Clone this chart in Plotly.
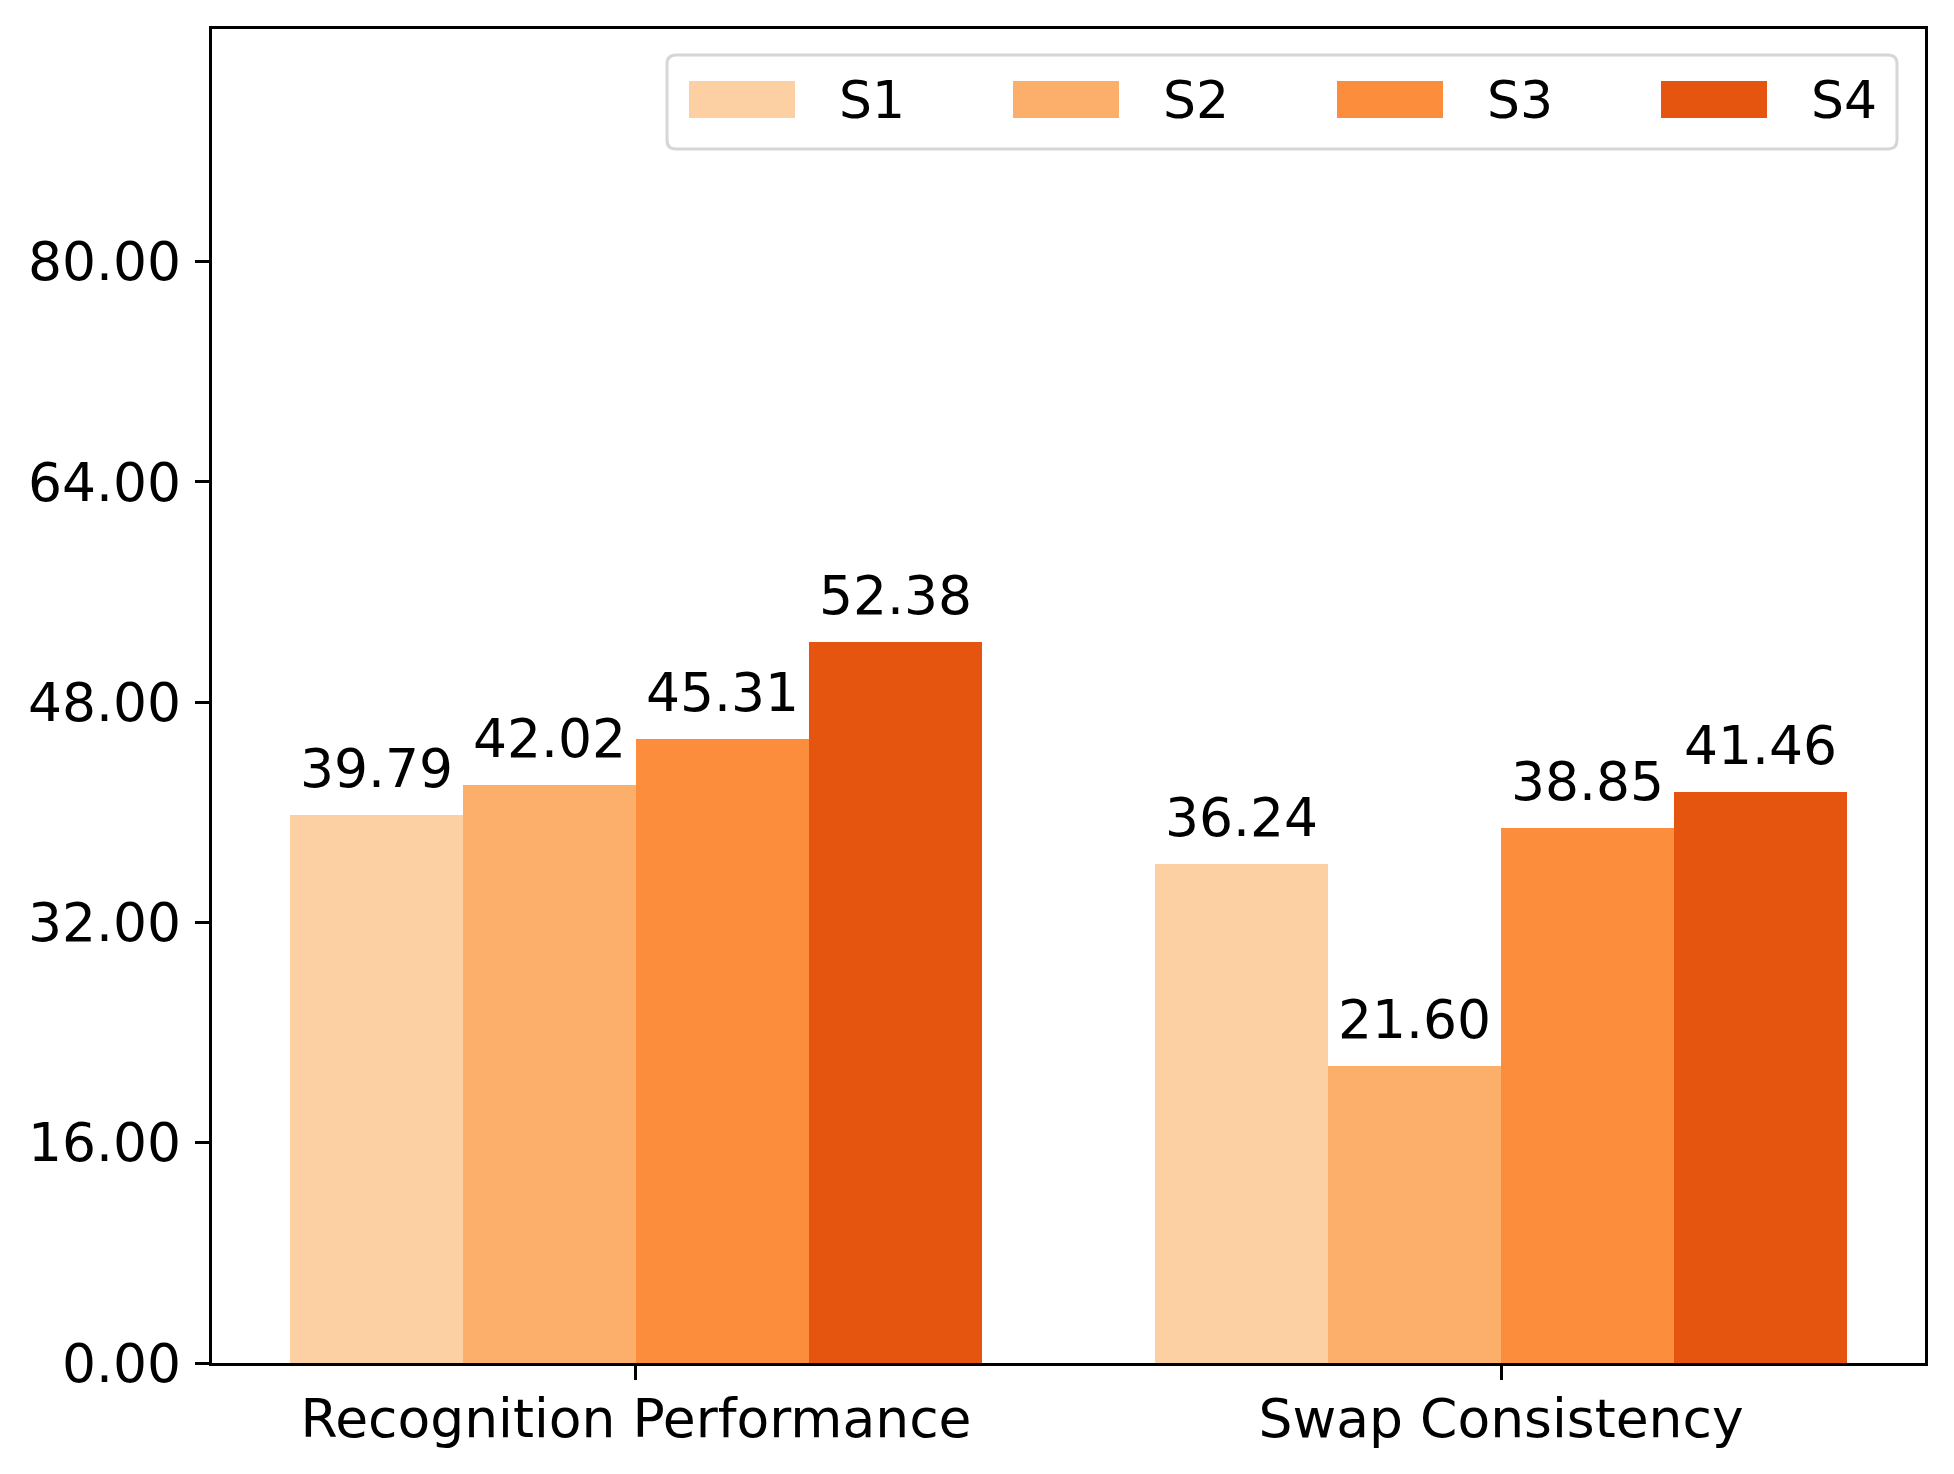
import re
import plotly.graph_objects as go

categories = ["Recognition Performance", "Swap Consistency"]
series_names = ["S1", "S2", "S3", "S4"]
s1_values = [39.79, 36.24]
s2_values = [42.02, 21.60]
s3_values = [45.31, 38.85]
s4_values = [52.38, 41.46]
series_values = [s1_values, s2_values, s3_values, s4_values]
colors = ["#fcd0a2", "#fcae6b", "#fc8d3c", "#e5550f"]
y_tick_values = [0, 16, 32, 48, 64, 80]

W, H = 1954, 1474
OFF = 8  # default page body margin
PL, PR, PT, PB = 212, 1925, 29, 1363  # plot area in page pixels
WF, HF = W - 2 * OFF, H - 2 * OFF
FONT = "DejaVu Sans"
FS = 53.5
bar_w = 0.2

fig = go.Figure()
annotations = []
n = len(series_names)
for k, (name, vals, col) in enumerate(zip(series_names, series_values, colors)):
    xs = [i + (k - (n - 1) / 2) * bar_w for i in range(len(categories))]
    fig.add_trace(go.Bar(x=xs, y=vals, width=bar_w, name=name,
                         marker=dict(color=col, line=dict(width=0)),
                         showlegend=False))
    for x, v in zip(xs, vals):
        annotations.append(dict(x=x, y=v, xref="x", yref="y", text=f"{v:.2f}",
                                showarrow=False, yanchor="bottom", xanchor="center",
                                yshift=13, font=dict(family=FONT, size=FS, color="black")))


def px2paper_x(px):
    return (px - PL) / (PR - PL)


def px2paper_y(py):
    return (PB - py) / (PB - PT)


shapes = []
bx0, bx1, by0, by1, r = 667, 1897, 55, 149, 9
path = (f"M {bx0 + r},{by0} L {bx1 - r},{by0} Q {bx1},{by0} {bx1},{by0 + r} "
        f"L {bx1},{by1 - r} Q {bx1},{by1} {bx1 - r},{by1} L {bx0 + r},{by1} "
        f"Q {bx0},{by1} {bx0},{by1 - r} L {bx0},{by0 + r} Q {bx0},{by0} {bx0 + r},{by0} Z")


def conv(match):
    x = float(match.group(1)); y = float(match.group(2))
    return f"{px2paper_x(x):.5f},{px2paper_y(y):.5f}"


path_paper = re.sub(r"([\d.]+),([\d.]+)", conv, path)
shapes.append(dict(type="path", path=path_paper, xref="paper", yref="paper",
                   line=dict(color="#d6d6d6", width=3), fillcolor="rgba(255,255,255,0.8)",
                   layer="above"))
for k, (name, col) in enumerate(zip(series_names, colors)):
    x0 = 689 + k * 324
    shapes.append(dict(type="rect", xref="paper", yref="paper",
                       x0=px2paper_x(x0), x1=px2paper_x(x0 + 106),
                       y0=px2paper_y(118), y1=px2paper_y(81),
                       fillcolor=col, line=dict(width=0), layer="above"))
    annotations.append(dict(x=px2paper_x(x0 + 148), y=px2paper_y(100), xref="paper", yref="paper",
                            text=name, showarrow=False, xanchor="left", yanchor="middle",
                            font=dict(family=FONT, size=52, color="black")))

fig.update_layout(
    width=WF, height=HF,
    margin=dict(l=PL - OFF, r=WF - (PR - OFF), t=PT - OFF, b=HF - (PB - OFF), pad=0),
    paper_bgcolor="white", plot_bgcolor="white",
    barmode="overlay", bargap=0,
    font=dict(family=FONT, size=FS, color="black"),
    shapes=shapes, annotations=annotations,
    showlegend=False,
)
fig.update_xaxes(range=[-0.49, 1.49], tickvals=list(range(len(categories))), ticktext=categories,
                 showline=True, linecolor="black", linewidth=3.3, mirror=True,
                 ticks="outside", ticklen=14, tickwidth=3.3, tickcolor="black",
                 showgrid=False, zeroline=False, ticklabelstandoff=-7,
                 tickfont=dict(family=FONT, size=FS, color="black"))
fig.update_yaxes(range=[0, 96.9], tickvals=y_tick_values, tickformat=".2f",
                 showline=True, linecolor="black", linewidth=3.3, mirror=True,
                 ticks="outside", ticklen=14, tickwidth=3.3, tickcolor="black",
                 showgrid=False, zeroline=False, ticklabelstandoff=3,
                 tickfont=dict(family=FONT, size=FS, color="black"))

fig.write_html("out.html")
